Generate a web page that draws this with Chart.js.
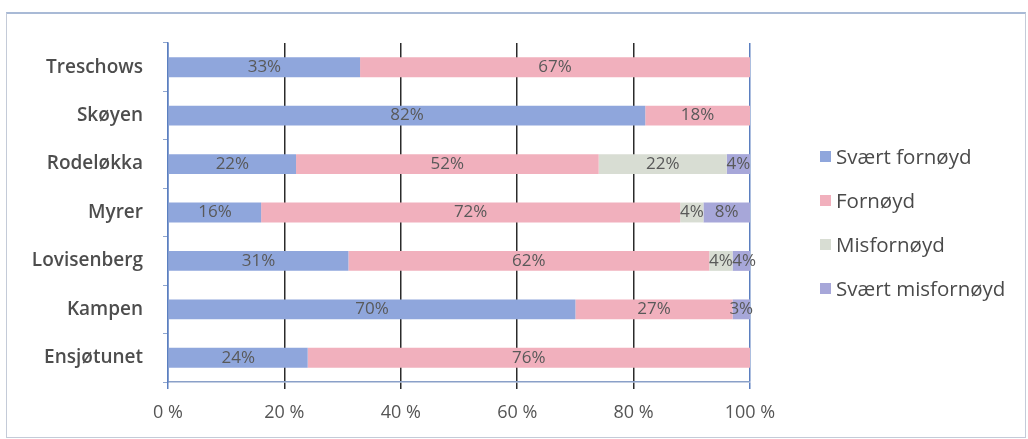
<!DOCTYPE html>
<html>
<head>
<meta charset="utf-8">
<script src="https://cdn.jsdelivr.net/npm/chart.js@4"></script>
<style>
  body { margin: 0; background: #fff; }
  #wrap { position: relative; width: 1028px; height: 439px; }
  #frame {
    position: absolute; left: 6px; top: 12px; width: 1018px; height: 423px;
    border: 1px solid #c4cbd8; border-top: 2px solid #a9bad6;
  }
  #legend {
    position: absolute; left: 820px; top: 142px;
    font-family: "Open Sans", sans-serif; font-size: 20.5px; color: #4a4a4a;
  }
  .item { height: 44px; display: flex; align-items: flex-start; }
  .box { width: 11px; height: 11px; margin: 9px 5px 0 0; }
</style>
</head>
<body>
<div id="wrap">
  <div id="frame"></div>
  <canvas id="chart" width="1028" height="439"></canvas>
  <div id="legend"></div>
</div>
<script>
// Categories and series (percent)
const places = ["Treschows", "Skøyen", "Rodeløkka", "Myrer", "Lovisenberg", "Kampen", "Ensjøtunet"];
const svaertFornoyd = [33, 82, 22, 16, 31, 70, 24];
const fornoyd = [67, 18, 52, 72, 62, 27, 76];
const misfornoyd = [0, 0, 22, 4, 4, 0, 0];
const svaertMisfornoyd = [0, 0, 4, 8, 4, 3, 0];
const xTicks = [0, 20, 40, 60, 80, 100];

const seriesNames = ["Svært fornøyd", "Fornøyd", "Misfornøyd", "Svært misfornøyd"];
const seriesColors = ["#8fa6dc", "#f1b0bd", "#d8ddd3", "#a7a7d9"];
const seriesData = [svaertFornoyd, fornoyd, misfornoyd, svaertMisfornoyd];

// draws the percent labels in the middle of each segment
const barLabels = {
  id: "barLabels",
  afterDatasetsDraw(chart) {
    const ctx = chart.ctx;
    ctx.save();
    ctx.font = "17px 'Open Sans', sans-serif";
    ctx.fillStyle = "#595959";
    ctx.textAlign = "center";
    ctx.textBaseline = "middle";
    chart.data.datasets.forEach((ds, i) => {
      chart.getDatasetMeta(i).data.forEach((bar, j) => {
        if (!ds.data[j]) return;
        const x = (bar.x + bar.base) / 2;
        ctx.fillText(ds.data[j] + "%", x, bar.y);
      });
    });
    ctx.restore();
  }
};

const gridColor = (c) => (c.tick && (c.tick.value === 0 || c.tick.value === 100)) ? "#5b7fc0" : "#2b2b2b";

const chart = new Chart(document.getElementById("chart"), {
  type: "bar",
  data: {
    labels: places,
    datasets: seriesNames.map((name, i) => ({
      label: name,
      data: seriesData[i],
      backgroundColor: seriesColors[i],
      borderWidth: 0,
      categoryPercentage: 0.82,
      barPercentage: 0.5,
    })),
  },
  options: {
    indexAxis: "y",
    responsive: false,
    animation: false,
    layout: { padding: { top: 43, right: 278, bottom: 0, left: 0 } },
    plugins: { legend: { display: false }, tooltip: { enabled: false } },
    scales: {
      x: {
        stacked: true,
        min: 0,
        max: 100,
        afterBuildTicks: (s) => { s.ticks = xTicks.map(v => ({ value: v })); },
        afterFit: (s) => { s.height = 57; },
        grid: { color: gridColor, lineWidth: 1.5, tickLength: 7 },
        border: { color: "#8aa0c8", width: 1.5 },
        ticks: {
          callback: (v) => v + " %",
          color: "#555",
          padding: 13,
          font: { family: "'Open Sans', sans-serif", size: 18 },
        },
      },
      y: {
        stacked: true,
        afterFit: (s) => { s.width = 168; },
        grid: { drawOnChartArea: false, tickLength: 5, color: "#8fa6d0" },
        border: { color: "#5b7fc0", width: 1.5 },
        ticks: {
          color: "#4d4d4d",
          padding: 20,
          font: { family: "'Open Sans', sans-serif", size: 19, weight: "600" },
        },
      },
    },
  },
  plugins: [barLabels],
});

// legend
const legend = document.getElementById("legend");
seriesNames.forEach((name, i) => {
  const item = document.createElement("div");
  item.className = "item";
  item.innerHTML = `<span class="box" style="background:${seriesColors[i]}"></span><span>${name}</span>`;
  legend.appendChild(item);
});
</script>
</body>
</html>
